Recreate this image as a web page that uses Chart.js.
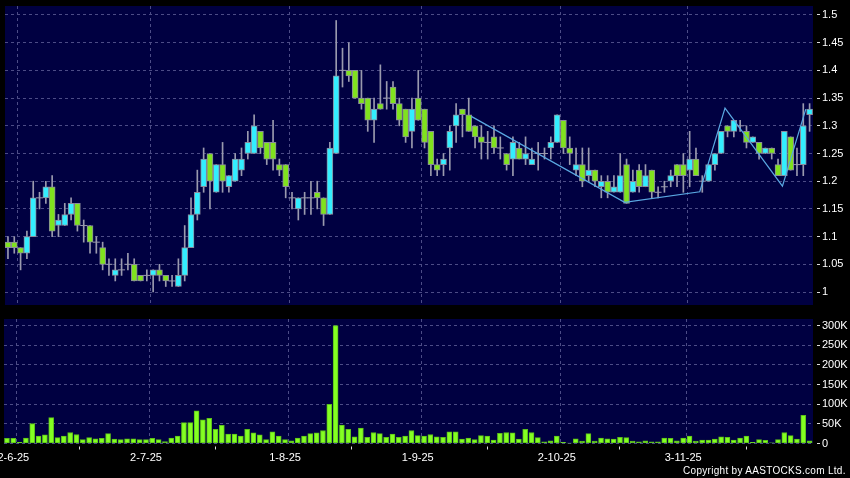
<!DOCTYPE html>
<html>
<head>
<meta charset="utf-8">
<script src="https://cdn.jsdelivr.net/npm/chart.js@4.4.0/dist/chart.umd.min.js"></script>
<style>
  html, body { margin: 0; padding: 0; background: #000; }
  #wrap { position: relative; width: 850px; height: 478px; background: #000; overflow: hidden; }
  #priceChart { position: absolute; left: 0; top: 0; }
  #volChart { position: absolute; left: 0; top: 310px; }
  #copy { position: absolute; left: 683px; top: 465px; color: #fff; white-space: nowrap;
          font: 10px "Liberation Sans", Arial, sans-serif; letter-spacing: 0.3px; }
</style>
</head>
<body>
<div id="wrap">
  <canvas id="priceChart" width="850" height="310"></canvas>
  <canvas id="volChart" width="850" height="168"></canvas>
  <div id="copy">Copyright by AASTOCKS.com Ltd.</div>
</div>
<script>
// daily candles, 30-5-25 .. 1-12-25 (index = trading day)
var open = [1.09,1.09,1.08,1.07,1.10,1.17,1.17,1.19,1.12,1.12, 1.14,1.16,1.12,1.12,1.09,1.08,1.05,1.03,1.04,1.05,
            1.05,1.03,1.03,1.03,1.04,1.03,1.02,1.01,1.03,1.08, 1.14,1.19,1.25,1.18,1.23,1.19,1.20,1.22,1.25,1.25,
            1.29,1.27,1.27,1.23,1.23,1.17,1.15,1.17,1.17,1.18, 1.17,1.14,1.25,1.40,1.40,1.40,1.35,1.35,1.31,1.34,
            1.35,1.37,1.34,1.33,1.29,1.35,1.33,1.29,1.23,1.23, 1.26,1.30,1.33,1.32,1.30,1.28,1.27,1.28,1.26,1.25,
            1.24,1.26,1.24,1.23,1.25,1.25,1.26,1.27,1.31,1.26, 1.22,1.23,1.21,1.22,1.19,1.20,1.18,1.18,1.23,1.18,
            1.22,1.19,1.22,1.18,1.19,1.20,1.23,1.23,1.22,1.24, 1.20,1.20,1.23,1.25,1.30,1.29,1.30,1.29,1.27,1.27,
            1.25,1.26,1.23,1.21,1.28,1.23,1.23,1.32];
var high = [1.10,1.10,1.08,1.11,1.20,1.18,1.20,1.21,1.14,1.16, 1.17,1.16,1.13,1.12,1.10,1.09,1.06,1.06,1.06,1.07,
            1.06,1.03,1.04,1.04,1.05,1.03,1.03,1.06,1.12,1.17, 1.22,1.26,1.25,1.23,1.27,1.21,1.25,1.26,1.29,1.32,
            1.29,1.27,1.31,1.24,1.23,1.18,1.17,1.18,1.20,1.20, 1.17,1.27,1.49,1.44,1.45,1.40,1.40,1.35,1.35,1.41,
            1.38,1.38,1.35,1.33,1.35,1.40,1.33,1.29,1.24,1.25, 1.30,1.34,1.33,1.35,1.30,1.30,1.29,1.30,1.28,1.25,
            1.28,1.27,1.28,1.26,1.27,1.26,1.28,1.32,1.31,1.28, 1.26,1.26,1.26,1.22,1.21,1.21,1.21,1.25,1.24,1.22,
            1.23,1.23,1.22,1.19,1.20,1.22,1.23,1.25,1.29,1.26, 1.21,1.23,1.25,1.29,1.30,1.31,1.31,1.30,1.28,1.27,
            1.26,1.26,1.24,1.29,1.28,1.26,1.34,1.34];
var low  = [1.06,1.07,1.04,1.06,1.10,1.15,1.16,1.10,1.10,1.12, 1.13,1.11,1.09,1.07,1.07,1.04,1.03,1.02,1.03,1.04,
            1.02,1.02,1.02,1.00,1.02,1.01,1.01,1.01,1.02,1.08, 1.13,1.18,1.15,1.18,1.18,1.18,1.20,1.21,1.24,1.25,
            1.25,1.23,1.22,1.21,1.17,1.15,1.13,1.14,1.14,1.15, 1.12,1.14,1.25,1.37,1.38,1.35,1.33,1.29,1.27,1.33,
            1.33,1.33,1.30,1.27,1.26,1.31,1.26,1.21,1.21,1.21, 1.22,1.27,1.28,1.29,1.26,1.24,1.24,1.25,1.24,1.22,
            1.21,1.24,1.23,1.23,1.22,1.24,1.24,1.27,1.25,1.23, 1.21,1.19,1.20,1.19,1.17,1.17,1.18,1.18,1.16,1.18,
            1.18,1.19,1.17,1.17,1.18,1.19,1.19,1.18,1.19,1.21, 1.18,1.20,1.22,1.25,1.28,1.28,1.29,1.26,1.27,1.24,
            1.25,1.24,1.21,1.21,1.22,1.21,1.21,1.29];
var close = [1.08,1.08,1.07,1.10,1.17,1.17,1.19,1.11,1.13,1.14, 1.16,1.12,1.12,1.09,1.09,1.05,1.05,1.04,1.04,1.05,
             1.02,1.02,1.03,1.04,1.03,1.02,1.02,1.03,1.08,1.14, 1.18,1.24,1.20,1.23,1.20,1.21,1.24,1.24,1.27,1.30,
             1.26,1.24,1.24,1.22,1.19,1.17,1.17,1.17,1.17,1.17, 1.14,1.26,1.39,1.40,1.39,1.35,1.34,1.31,1.33,1.33,
             1.35,1.34,1.31,1.28,1.33,1.31,1.27,1.23,1.22,1.24, 1.29,1.32,1.32,1.29,1.28,1.27,1.27,1.26,1.26,1.23,
             1.27,1.24,1.25,1.24,1.25,1.25,1.27,1.32,1.26,1.25, 1.23,1.20,1.22,1.20,1.20,1.18,1.19,1.21,1.16,1.20,
             1.19,1.21,1.18,1.18,1.19,1.21,1.21,1.21,1.24,1.21, 1.20,1.23,1.25,1.29,1.29,1.31,1.30,1.27,1.28,1.25,
             1.26,1.25,1.21,1.29,1.22,1.23,1.30,1.33];
// volume in thousands of shares
var volumeK = [13,13,3,14,51,19,22,66,15,19, 28,23,10,15,12,13,25,11,10,12,
               12,10,10,13,10,5,14,19,53,53, 83,60,64,36,46,24,24,19,36,27,
               22,10,30,19,10,7,14,19,25,27, 33,100,300,47,36,17,39,16,28,25,
               16,24,16,19,33,20,19,23,17,16, 30,30,11,14,10,20,19,9,26,28,
               27,11,36,28,15,4,7,19,3,1, 12,6,25,6,14,12,11,16,15,6,
               4,7,4,4,14,13,7,14,19,6, 9,9,11,17,16,9,14,19,3,10,
               8,2,10,28,20,11,72,7];

// month labels and the trading day they sit on
var monthLabels = ['2-6-25', '2-7-25', '1-8-25', '1-9-25', '2-10-25', '3-11-25'];
var monthIdx = [1, 22, 44, 65, 87, 107];

var priceTicks = [1, 1.05, 1.1, 1.15, 1.2, 1.25, 1.3, 1.35, 1.4, 1.45, 1.5];
var volTicks = [0, 50, 100, 150, 200, 250, 300];
var volTickLabels = ['0', '50K', '100K', '150K', '200K', '250K', '300K'];

// hand drawn trend line (trading day, price)
var trendX = [73.4, 97.7, 109.6, 113.6, 122.7, 126.4];
var trendY = [1.317, 1.162, 1.181, 1.332, 1.191, 1.330];

var navy = '#000041';
var gridColor = '#4c4c86';
var upColor = '#33eeff';
var downColor = '#80e21e';
var edgeColor = '#8a8a9c';
var wickColor = '#9a9aae';
var font = { family: '"Liberation Sans", Arial, sans-serif', size: 11 };

var bgPlugin = {
    id: 'bg',
    beforeDraw: function (chart) {
        var ctx = chart.ctx, a = chart.chartArea;
        ctx.save();
        ctx.fillStyle = '#000';
        ctx.fillRect(0, 0, chart.width, chart.height);
        ctx.fillStyle = navy;
        ctx.fillRect(a.left, a.top, a.right - a.left, a.bottom - a.top);
        ctx.restore();
    },
    beforeDatasetsDraw: function (chart) {
        var ctx = chart.ctx, a = chart.chartArea, x = chart.scales.x;
        ctx.save();
        ctx.strokeStyle = gridColor;
        ctx.lineWidth = 1;
        ctx.setLineDash([3, 3]);
        monthIdx.forEach(function (i) {
            var px = Math.round(x.getPixelForValue(i + 0.5)) + 0.5;
            ctx.beginPath();
            ctx.moveTo(px, a.top);
            ctx.lineTo(px, a.bottom);
            ctx.stroke();
        });
        ctx.restore();
    }
};

function noPad(scale) {
    scale.paddingLeft = 0; scale.paddingRight = 0;
    scale.paddingTop = 0; scale.paddingBottom = 0;
}

var xMin = -0.47, xMax = 127.54;

var wicks = [], bodies = [], dojis = [], vols = [], trend = [];
for (var i = 0; i < open.length; i++) {
    wicks.push({ x: i, y: [low[i], high[i]] });
    if (open[i] === close[i]) dojis.push({ x: i, y: open[i] });
    else bodies.push({ x: i, y: [open[i], close[i]] });
    vols.push({ x: i, y: volumeK[i] });
}
for (var j = 0; j < trendX.length; j++) trend.push({ x: trendX[j], y: trendY[j] });

new Chart(document.getElementById('priceChart'), {
    type: 'bar',
    data: {
        datasets: [
            { type: 'line', data: trend, borderColor: '#5aa8e2', borderWidth: 1.2, pointRadius: 0, order: 0 },
            { type: 'scatter', data: dojis, pointStyle: 'line', radius: 3.5, borderColor: wickColor, borderWidth: 1, order: 1 },
            { data: bodies, grouped: false, barThickness: 6, borderWidth: 1, borderSkipped: false,
              borderColor: edgeColor,
              backgroundColor: function (c) { var r = c.raw; return r && r.y[1] > r.y[0] ? upColor : downColor; },
              order: 2 },
            { data: wicks, grouped: false, barThickness: 1, backgroundColor: wickColor, order: 3 }
        ]
    },
    options: {
        responsive: false,
        animation: false,
        layout: { padding: { left: 4, top: 6, right: 0, bottom: 4 } },
        plugins: { legend: { display: false }, tooltip: { enabled: false } },
        scales: {
            x: { type: 'linear', min: xMin, max: xMax, offset: false, display: false },
            y: {
                position: 'right', min: 0.9766, max: 1.5162,
                afterBuildTicks: function (s) { s.ticks = priceTicks.map(function (v) { return { value: v }; }); },
                afterFit: function (s) { s.width = 37; noPad(s); },
                ticks: { color: '#fff', font: font, padding: 2, callback: function (v) { return String(v); } },
                grid: { color: gridColor, tickColor: '#ddd', tickLength: 7, tickBorderDash: [0, 4, 3, 30] },
                border: { display: false, dash: [3, 3] }
            }
        }
    },
    plugins: [bgPlugin]
});

new Chart(document.getElementById('volChart'), {
    type: 'bar',
    data: {
        datasets: [
            { data: vols, grouped: false, barThickness: 5, borderWidth: 1, borderSkipped: false,
              borderColor: '#5cc01a', backgroundColor: '#84ff22' }
        ]
    },
    options: {
        responsive: false,
        animation: false,
        layout: { padding: { left: 4, top: 9, right: 0, bottom: 0 } },
        plugins: { legend: { display: false }, tooltip: { enabled: false } },
        scales: {
            x: {
                type: 'linear', min: xMin, max: xMax, offset: false,
                afterBuildTicks: function (s) { s.ticks = monthIdx.map(function (v) { return { value: v }; }); },
                afterFit: function (s) { s.height = 34.5; noPad(s); },
                ticks: { color: '#fff', font: font, padding: 2, autoSkip: false, maxRotation: 0,
                         callback: function (v) { return monthLabels[monthIdx.indexOf(v)]; } },
                grid: { drawOnChartArea: false, tickColor: '#ddd', tickLength: 6, tickBorderDash: [0, 2.5, 3.5, 30] },
                border: { display: false }
            },
            y: {
                position: 'right', min: 0, max: 317,
                afterBuildTicks: function (s) { s.ticks = volTicks.map(function (v) { return { value: v }; }); },
                afterFit: function (s) { s.width = 37; noPad(s); },
                ticks: { color: '#fff', font: font, padding: 2,
                         callback: function (v) { return volTickLabels[volTicks.indexOf(v)]; } },
                grid: { color: gridColor, tickColor: '#ddd', tickLength: 7, tickBorderDash: [0, 4, 3, 30] },
                border: { display: false, dash: [3, 3] }
            }
        }
    },
    plugins: [bgPlugin]
});
</script>
</body>
</html>
